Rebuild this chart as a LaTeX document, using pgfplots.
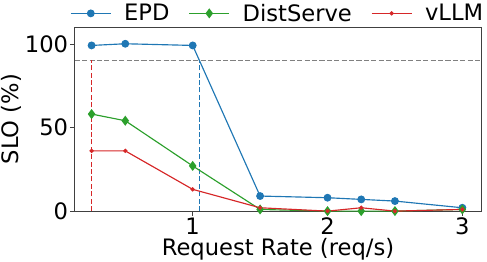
\documentclass[border=0pt]{standalone}
\usepackage{fontspec}
\setmainfont{DejaVu Sans}
\usepackage{pgfplots}
\pgfplotsset{compat=1.18}
\definecolor{tabblue}{HTML}{1F77B4}
\definecolor{tabgreen}{HTML}{2CA02C}
\definecolor{tabred}{HTML}{D62728}
\definecolor{refgray}{HTML}{808080}
\begin{document}
\begin{tikzpicture}
\begin{axis}[
  scale only axis, width=318pt, height=144pt,
  xmin=0.125, xmax=3.14, ymin=0, ymax=110,
  xtick={1,2,3}, ytick={0,50,100},
  tick align=outside, tick pos=left,
  major tick length=3.5pt,
  /pgf/number format/assume math mode=true,
  tick label style={font=\fontsize{17.7}{21}\selectfont, inner sep=1.5pt},
  label style={font=\fontsize{17.7}{21}\selectfont},
  xlabel={Request Rate (req/s)}, ylabel={SLO (\%)},
  xlabel style={inner sep=1pt, yshift=0pt}, ylabel style={inner sep=1pt},
  axis line style={black!75},
  every tick/.style={black!75, thin},
  legend style={at={(0.5,1.0)}, anchor=south, draw=none, fill=none,
    legend columns=3, font=\fontsize{17.7}{21}\selectfont,
    inner sep=1pt,
    /tikz/every odd column/.append style={column sep=8pt},
    /tikz/every even column/.append style={column sep=13pt}},
  legend cell align=left,
  legend image code/.code={\draw[mark repeat=2,mark phase=2] plot coordinates {(0cm,0cm) (0.55cm,0cm) (1.1cm,0cm)};},
]
\addplot[refgray, dash pattern=on 4pt off 1.8pt, line width=1.2pt, forget plot] coordinates {(0.125,90) (3.14,90)};
\addplot[tabred, dash pattern=on 4pt off 1.8pt, line width=1.2pt, forget plot] coordinates {(0.25,0) (0.25,90)};
\addplot[tabblue, dash pattern=on 4pt off 1.8pt, line width=1.2pt, forget plot] coordinates {(1.05,0) (1.05,90)};
\addplot[tabblue, line width=0.9pt, mark=*, mark size=2.6pt] coordinates {
 (0.25,99) (0.5,100) (1,99) (1.5,9) (2,8) (2.25,7) (2.5,6) (3,2)};
\addlegendentry{EPD}
\addplot[tabgreen, line width=0.9pt, mark=diamond*, mark size=3.2pt] coordinates {
 (0.25,58) (0.5,54) (1,27) (1.5,1) (2,0) (2.25,0) (2.5,0) (3,1)};
\addlegendentry{DistServe}
\addplot[tabred, line width=0.9pt, mark=*, mark size=1.2pt] coordinates {
 (0.25,36) (0.5,36) (1,13) (1.5,2) (2,0) (2.25,2) (2.5,0) (3,1)};
\addlegendentry{vLLM}
\end{axis}
\end{tikzpicture}
\end{document}
